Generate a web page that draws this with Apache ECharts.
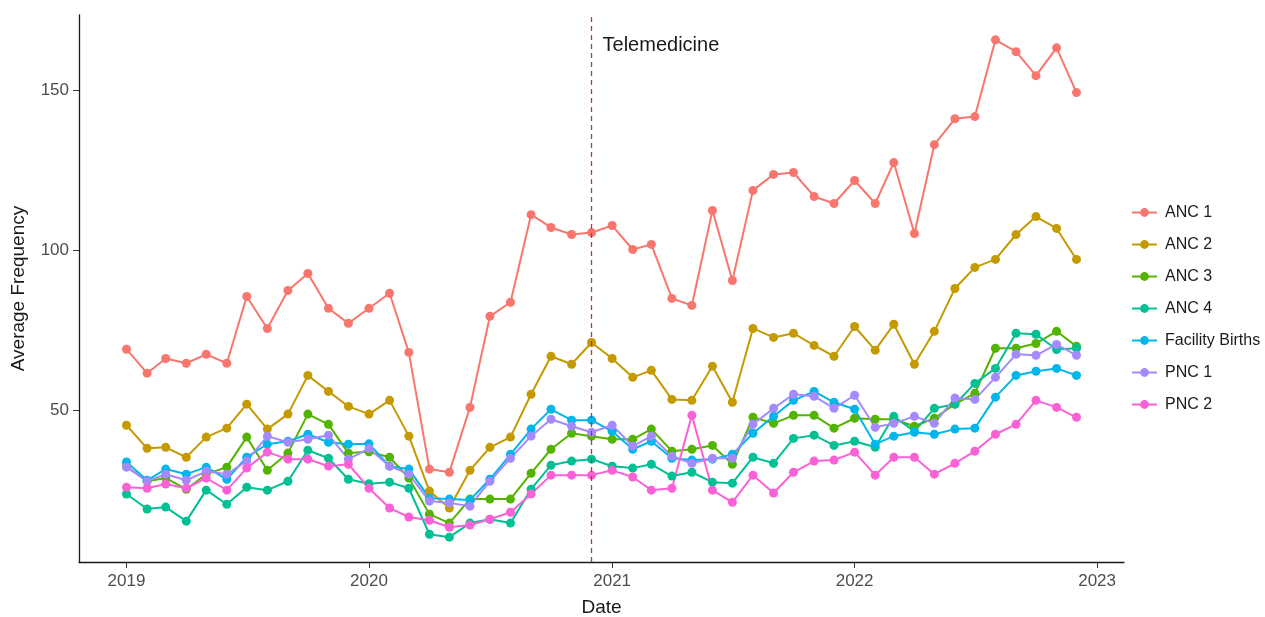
<!DOCTYPE html>
<html>
<head>
<meta charset="utf-8">
<script src="https://cdn.jsdelivr.net/npm/echarts@6/dist/echarts.min.js"></script>
<style>
html,body{margin:0;padding:0;background:#fff;}
#chart{width:1265px;height:617px;}
</style>
</head>
<body>
<div id="chart"></div>
<script>
const months = [
 "2019-01-01","2019-02-01","2019-03-01","2019-04-01","2019-05-01","2019-06-01","2019-07-01","2019-08-01","2019-09-01","2019-10-01","2019-11-01","2019-12-01",
 "2020-01-01","2020-02-01","2020-03-01","2020-04-01","2020-05-01","2020-06-01","2020-07-01","2020-08-01","2020-09-01","2020-10-01","2020-11-01","2020-12-01",
 "2021-01-01","2021-02-01","2021-03-01","2021-04-01","2021-05-01","2021-06-01","2021-07-01","2021-08-01","2021-09-01","2021-10-01","2021-11-01","2021-12-01",
 "2022-01-01","2022-02-01","2022-03-01","2022-04-01","2022-05-01","2022-06-01","2022-07-01","2022-08-01","2022-09-01","2022-10-01","2022-11-01","2022-12-01"
];
const seriesNames = ["ANC 1","ANC 2","ANC 3","ANC 4","Facility Births","PNC 1","PNC 2"];
const anc1 = [69.1,61.6,66.2,64.7,67.5,64.7,85.6,75.6,87.5,92.8,81.9,77.2,
 81.9,86.6,68.1,31.6,30.6,50.9,79.4,83.8,111.2,107.2,105.0,105.6,
 107.8,100.3,101.9,85.0,82.8,112.5,90.6,118.8,123.8,124.4,116.9,114.7,
 121.9,114.7,127.5,105.3,133.1,141.2,141.9,165.9,162.2,154.7,163.4,149.4];
const anc2 = [45.3,38.1,38.4,35.3,41.6,44.4,51.9,44.1,48.8,60.9,55.9,51.2,
 48.8,53.1,41.9,24.7,19.4,31.2,38.4,41.6,55.0,66.9,64.4,71.2,
 66.2,60.3,62.5,53.4,53.1,63.8,52.5,75.6,72.8,74.1,70.3,66.9,
 76.2,68.8,76.9,64.4,74.7,88.1,94.7,97.2,105.0,110.6,106.9,97.2];
const anc3 = [32.5,27.8,28.8,25.3,30.0,32.2,41.6,31.2,36.6,48.8,45.6,36.6,
 37.0,35.3,28.8,17.5,14.7,22.2,22.2,22.2,30.3,37.8,42.8,41.9,
 40.9,40.9,44.1,37.2,37.8,39.0,33.1,47.8,45.9,48.4,48.4,44.4,
 47.5,47.2,47.2,45.0,47.5,51.9,55.3,69.4,69.4,70.9,74.7,70.0];
const anc4 = [23.8,19.1,19.7,15.3,25.0,20.6,25.9,25.0,27.8,37.5,35.0,28.4,
 27.0,27.5,25.6,11.2,10.3,14.7,15.9,14.7,25.3,32.8,34.1,34.7,
 32.5,31.9,33.1,29.4,30.6,27.5,27.2,35.3,33.4,41.2,42.2,39.0,
 40.3,38.4,48.1,43.4,50.6,51.9,58.4,63.1,74.1,73.8,69.0,69.4];
const births = [33.8,28.1,31.6,30.0,32.2,28.4,35.3,39.4,40.3,42.5,40.0,39.4,
 39.5,32.5,31.6,22.5,22.2,21.9,28.4,36.2,44.1,50.3,46.9,46.9,
 43.4,37.8,40.3,35.0,34.4,34.7,36.2,42.8,48.1,53.1,55.9,52.5,
 50.3,39.4,41.9,43.1,42.5,44.1,44.4,54.1,60.9,62.2,63.1,60.9];
const pnc1 = [32.2,27.8,30.0,28.1,30.9,30.0,34.1,41.9,40.0,40.9,42.2,34.7,
 38.0,32.5,30.0,21.6,21.0,20.0,27.8,35.0,41.9,47.2,45.0,43.1,
 45.3,38.8,41.9,35.6,33.4,35.0,35.0,45.6,50.6,55.0,54.4,50.6,
 54.7,44.7,45.9,48.1,45.9,53.8,53.4,60.3,67.5,67.2,70.6,67.2];
const pnc2 = [25.9,25.6,26.9,25.6,28.8,25.0,31.9,36.9,34.7,34.7,32.5,33.1,
 25.6,19.4,16.6,15.6,13.4,14.1,15.9,18.1,23.8,29.7,29.7,29.7,
 31.2,29.1,25.0,25.6,48.4,25.0,21.2,29.7,24.1,30.6,34.1,34.4,
 36.9,29.7,35.3,35.3,30.0,33.4,37.2,42.5,45.6,53.1,50.9,47.8];
const yTicks = [50,100,150];
const xTickYears = ["2019","2020","2021","2022","2023"];
const eventDate = "2020-12-01";
const eventLabel = "Telemedicine";

const colors = ["#F8766D","#C49A00","#53B400","#00C094","#00B6EB","#A58AFF","#FB61D7"];
const allValues = [anc1,anc2,anc3,anc4,births,pnc1,pnc2];

const ts = s => Date.parse(s + "T00:00:00Z");
const xMinData = ts(months[0]), xMaxData = ts(months[months.length-1]);
const xPad = (xMaxData - xMinData) * 0.05;
let vmin = Infinity, vmax = -Infinity;
allValues.forEach(a => a.forEach(v => { vmin = Math.min(vmin, v); vmax = Math.max(vmax, v); }));
const yPad = (vmax - vmin) * 0.05;

const font = "'Liberation Sans', Arial, sans-serif";

const series = seriesNames.map((name, i) => ({
  name: name,
  type: 'line',
  data: months.map((m, j) => [ts(m), allValues[i][j]]),
  symbol: 'circle',
  symbolSize: 9,
  lineStyle: { width: 2, color: colors[i] },
  itemStyle: { color: colors[i] },
  emphasis: { disabled: true },
  z: 2
}));
series.push({
  name: 'event',
  type: 'line',
  data: [],
  markLine: {
    silent: true,
    symbol: ['none','none'],
    lineStyle: { type: [5,4], color: '#C8312F', width: 1.3 },
    label: { show: false },
    data: [{ xAxis: ts(eventDate) }]
  },
  markPoint: {
    silent: true,
    symbol: 'circle',
    symbolSize: 0,
    label: {
      show: true, position: 'right', distance: 11,
      formatter: eventLabel, color: '#1a1a1a', fontSize: 20, fontFamily: font
    },
    data: [{ coord: [ts(eventDate), 164] }]
  }
});

const chart = echarts.init(document.getElementById('chart'), null, { renderer: 'canvas' });
chart.setOption({
  animation: false,
  backgroundColor: '#fff',
  color: colors,
  grid: { left: 79, right: 141, top: 15, bottom: 55, containLabel: false, outerBoundsMode: 'none' },
  legend: {
    data: seriesNames,
    orient: 'vertical',
    left: 1126,
    top: 199,
    itemWidth: 25,
    itemHeight: 11,
    itemGap: 15,
    textStyle: { fontSize: 16, lineHeight: 17, color: '#1a1a1a', fontFamily: font, padding: [0,0,0,3] },
    selectedMode: false
  },
  xAxis: {
    type: 'value',
    min: xMinData - xPad,
    max: xMaxData + xPad,
    name: 'Date',
    nameLocation: 'middle',
    nameGap: 36,
    nameTextStyle: { fontSize: 19, color: '#1a1a1a', fontFamily: font },
    axisLine: { show: true, lineStyle: { color: '#1a1a1a', width: 1.3 } },
    axisTick: { show: true, length: 6, lineStyle: { color: '#333' }, customValues: xTickYears.map(y => ts(y + "-01-01")) },
    axisLabel: { show: true, color: '#4d4d4d', fontSize: 17, fontFamily: font, margin: 11,
      customValues: xTickYears.map(y => ts(y + "-01-01")),
      formatter: v => String(new Date(v).getUTCFullYear()) },
    splitLine: { show: false }
  },
  yAxis: {
    type: 'value',
    min: vmin - yPad,
    max: vmax + yPad,
    name: 'Average Frequency',
    nameLocation: 'middle',
    nameGap: 51,
    nameRotate: 90,
    nameTextStyle: { fontSize: 19, color: '#1a1a1a', fontFamily: font },
    axisLine: { show: true, lineStyle: { color: '#1a1a1a', width: 1.3 } },
    axisTick: { show: true, length: 6, lineStyle: { color: '#333' }, customValues: yTicks },
    axisLabel: { show: true, color: '#4d4d4d', fontSize: 17, fontFamily: font, margin: 10, customValues: yTicks },
    splitLine: { show: false }
  },
  series: series
});
</script>
</body>
</html>
